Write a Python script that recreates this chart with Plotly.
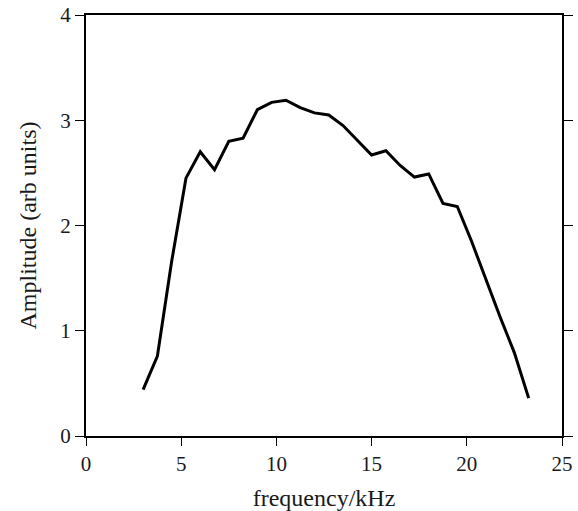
import plotly.graph_objects as go

freq_khz = [3.0, 3.75, 4.5, 5.25, 6.0, 6.75, 7.5, 8.25, 9.0, 9.75, 10.5, 11.25, 12.0, 12.75,
            13.5, 14.25, 15.0, 15.75, 16.5, 17.25, 18.0, 18.75, 19.5, 20.25, 21.0, 21.75, 22.5, 23.25]
amplitude = [0.44, 0.76, 1.66, 2.45, 2.70, 2.53, 2.80, 2.83, 3.10, 3.17, 3.19, 3.12, 3.07, 3.05,
             2.95, 2.81, 2.67, 2.71, 2.57, 2.46, 2.49, 2.21, 2.18, 1.85, 1.48, 1.13, 0.79, 0.36]
x_ticks = [0, 5, 10, 15, 20, 25]
y_ticks = [0, 1, 2, 3, 4]

fig = go.Figure(go.Scatter(x=freq_khz, y=amplitude, mode="lines",
                           line=dict(color="black", width=3)))

font = dict(family="Liberation Serif, Times New Roman, serif", color="#1a1a1a", size=21)
fig.update_layout(
    width=578, height=511,
    margin=dict(l=86, r=16, t=15, b=75, autoexpand=False),
    paper_bgcolor="white", plot_bgcolor="white",
    showlegend=False, font=font,
)
fig.update_xaxes(range=[0, 25], tickvals=x_ticks, ticks="outside", ticklen=8, tickwidth=1,
                 tickcolor="black", showline=True, linecolor="black", linewidth=2,
                 mirror=True, showgrid=False, zeroline=False, automargin=False,
                 title=dict(text="frequency/kHz", font=dict(size=24), standoff=14))
fig.update_yaxes(range=[0, 4], tickvals=y_ticks, ticks="outside", ticklen=9, tickwidth=1,
                 tickcolor="black", showline=True, linecolor="black", linewidth=2,
                 mirror="ticks", showgrid=False, zeroline=False, automargin=False,
                 title=dict(text="Amplitude (arb units)", font=dict(size=24), standoff=17))

fig.write_html("out.html")
